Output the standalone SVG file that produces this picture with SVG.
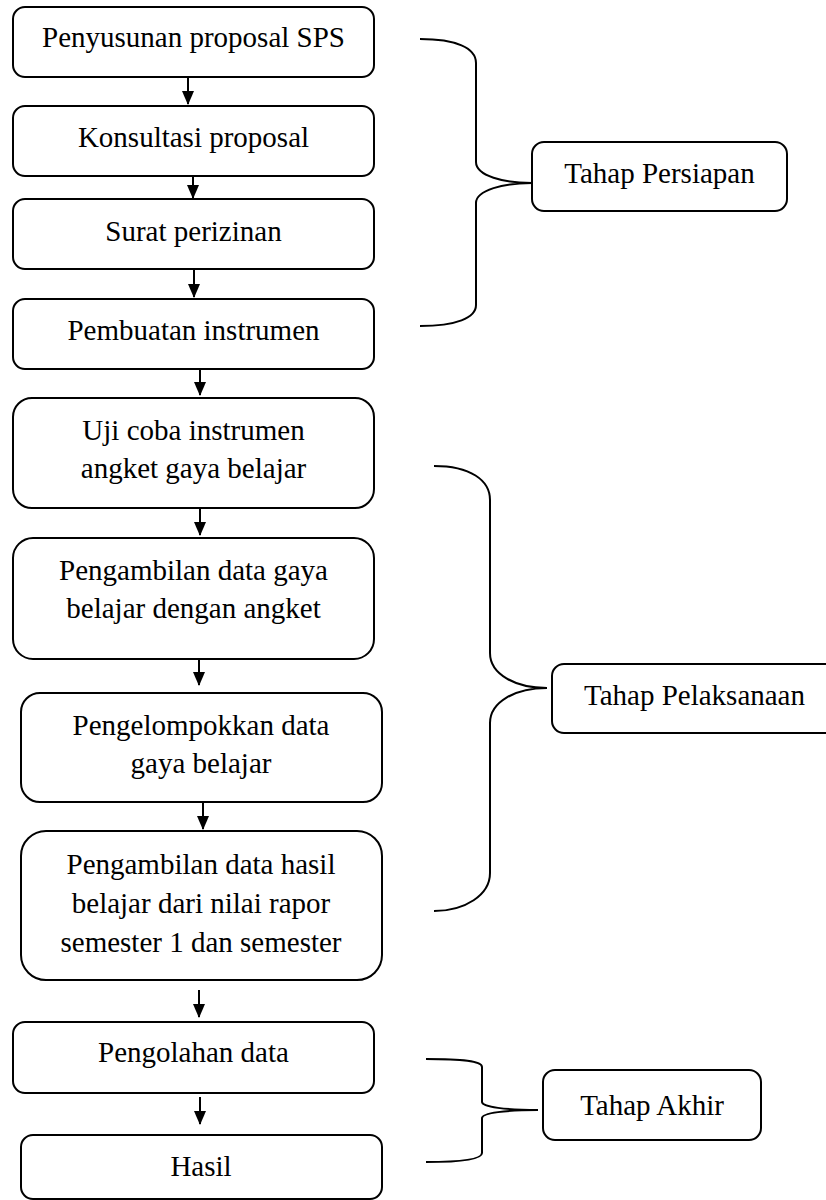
<svg xmlns="http://www.w3.org/2000/svg" width="826" height="1200" viewBox="0 0 826 1200">
<defs>
<style>
.box{fill:#fff;stroke:#000;stroke-width:2}
.t{font-family:"Liberation Serif","Times New Roman",serif;font-size:29px;fill:#000;text-anchor:middle}
.ln{fill:none;stroke:#000;stroke-width:2;marker-end:url(#ah)}
.br{fill:none;stroke:#000;stroke-width:2}
</style>
<marker id="ah" markerUnits="userSpaceOnUse" markerWidth="14" markerHeight="12" refX="13" refY="6" orient="auto" viewBox="0 0 14 12">
<path d="M0,0 L14,6 L0,12 Z" fill="#000"/>
</marker>
</defs>
<rect width="826" height="1200" fill="#fff"/>
<g id="connectors">
<line class="ln" x1="188" y1="77" x2="188" y2="104"/>
<line class="ln" x1="193" y1="176" x2="193" y2="198"/>
<line class="ln" x1="194" y1="269" x2="194" y2="297"/>
<line class="ln" x1="200" y1="369" x2="200" y2="395"/>
<line class="ln" x1="200" y1="508" x2="200" y2="535"/>
<line class="ln" x1="199" y1="658" x2="199" y2="685"/>
<line class="ln" x1="203" y1="802" x2="203" y2="829"/>
<line class="ln" x1="199" y1="990" x2="199" y2="1017"/>
<line class="ln" x1="200" y1="1097" x2="200" y2="1124"/>
<path class="br" d="M420,39 C456,39 476,48 476,63 L476,162 C476,176 504,183 532,183 C504,183 476,190 476,203 L476,305 C476,318 456,326 420,326"/>
<path class="br" d="M434,466 C470,466 490,480 490,500 L490,653 C490,674 515,688 547,688 C515,688 490,702 490,723 L490,873 C490,895 465,911 434,911"/>
<path class="br" d="M426,1059 C462,1059 482,1061 482,1067 L482,1102 C482,1107 506,1110 538,1110 C506,1110 482,1113 482,1118 L482,1153 C482,1159 462,1162 426,1162"/>
</g>
<g id="n1"><rect class="box" x="13" y="7" width="361" height="70" rx="12"/><text class="t" x="193.5" y="47">Penyusunan proposal SPS</text></g>
<g id="n2"><rect class="box" x="13" y="106" width="361" height="70" rx="12"/><text class="t" x="193.5" y="147">Konsultasi proposal</text></g>
<g id="n3"><rect class="box" x="13" y="199" width="361" height="70" rx="12"/><text class="t" x="193.5" y="241">Surat perizinan</text></g>
<g id="n4"><rect class="box" x="13" y="299" width="361" height="70" rx="12"/><text class="t" x="193.5" y="340">Pembuatan instrumen</text></g>
<g id="n5"><rect class="box" x="13" y="398" width="361" height="110" rx="19"/><text class="t" x="193.5" y="440">Uji coba instrumen</text><text class="t" x="193.5" y="478">angket gaya belajar</text></g>
<g id="n6"><rect class="box" x="13" y="538" width="361" height="121" rx="20"/><text class="t" x="193.5" y="580">Pengambilan data gaya</text><text class="t" x="193.5" y="618">belajar dengan angket</text></g>
<g id="n7"><rect class="box" x="21" y="693" width="361" height="109" rx="19"/><text class="t" x="201" y="735">Pengelompokkan data</text><text class="t" x="201" y="773">gaya belajar</text></g>
<g id="n8"><rect class="box" x="21" y="831" width="361" height="149" rx="25"/><text class="t" x="201" y="874">Pengambilan data hasil</text><text class="t" x="201" y="913">belajar dari nilai rapor</text><text class="t" x="201" y="952">semester 1 dan semester</text></g>
<g id="n9"><rect class="box" x="13" y="1022" width="361" height="71" rx="12"/><text class="t" x="193.5" y="1062">Pengolahan data</text></g>
<g id="n10"><rect class="box" x="21" y="1135" width="361" height="64" rx="12"/><text class="t" x="201" y="1176">Hasil</text></g>
<g id="s1"><rect class="box" x="532" y="142" width="255" height="69" rx="12"/><text class="t" x="659.5" y="183">Tahap Persiapan</text></g>
<g id="s2"><rect class="box" x="552" y="664" width="285" height="69" rx="12"/><text class="t" x="694.5" y="705">Tahap Pelaksanaan</text></g>
<g id="s3"><rect class="box" x="543" y="1070" width="218" height="70" rx="12"/><text class="t" x="652" y="1115">Tahap Akhir</text></g>
</svg>
